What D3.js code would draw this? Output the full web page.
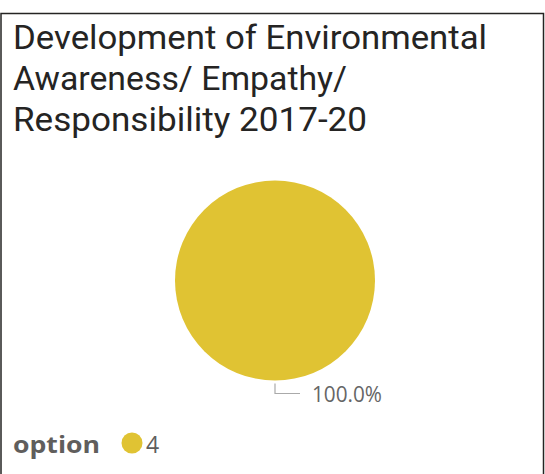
<!DOCTYPE html>
<html><head><meta charset="utf-8">
<script src="https://cdn.jsdelivr.net/npm/d3@7"></script>
<style>html,body{margin:0;padding:0;background:#fff;}svg{display:block;}</style>
</head><body>
<svg id="c" width="545" height="474"></svg>
<script>
const titleLines = ["Development of Environmental", "Awareness/ Empathy/", "Responsibility 2017-20"];
const categories = ["4"];
const values = [1];
const colors = ["#E0C333"];
const legendTitle = "option";

const svg = d3.select("#c");
svg.append("rect").attr("x", 1).attr("y", 13.5).attr("width", 542.5).attr("height", 470)
  .attr("fill", "#fff").attr("stroke", "#252423").attr("stroke-width", 1.5);

const tg = svg.append("g");
const baselines = [49, 90, 131];
const widths = [474, 334, 354];
titleLines.forEach((t, i) => {
  tg.append("text").attr("x", 13).attr("y", baselines[i]).text(t)
    .attr("font-family", "Roboto, 'DejaVu Sans'").attr("font-size", 34).attr("fill", "#252423")
    .attr("textLength", widths[i]).attr("lengthAdjust", "spacingAndGlyphs");
});

const cx = 275, cy = 280.5, r = 100;
const pie = d3.pie().sort(null)(values);
const arc = d3.arc().innerRadius(0).outerRadius(r);
const g = svg.append("g").attr("transform", `translate(${cx},${cy})`);
g.selectAll("path").data(pie).join("path").attr("d", arc).attr("fill", (d, i) => colors[i]);

const total = d3.sum(values);
pie.forEach((d, i) => {
  const p0 = [cx, cy + r + 3];
  const p1 = [cx, cy + r + 13];
  const p2 = [cx + 25, cy + r + 13];
  svg.append("polyline").attr("points", [p0, p1, p2].map(p => p.join(",")).join(" "))
    .attr("fill", "none").attr("stroke", "#aaa").attr("stroke-width", 1.2);
  svg.append("text").attr("x", 312).attr("y", 402)
    .text(d3.format(".1%")(values[i] / total))
    .attr("font-family", "'Open Sans', 'Noto Sans'").attr("font-size", 21).attr("fill", "#666")
    .attr("textLength", 70).attr("lengthAdjust", "spacingAndGlyphs");
});

const lg = svg.append("g");
lg.append("text").attr("x", 13).attr("y", 453).text(legendTitle)
  .attr("font-family", "'Open Sans', 'Noto Sans'").attr("font-weight", "bold")
  .attr("font-size", 24).attr("fill", "#605E5C")
  .attr("textLength", 87).attr("lengthAdjust", "spacingAndGlyphs");
categories.forEach((c, i) => {
  lg.append("circle").attr("cx", 132).attr("cy", 443).attr("r", 10.5).attr("fill", colors[i]);
  lg.append("text").attr("x", 146).attr("y", 453).text(c)
    .attr("font-family", "'Open Sans', 'Noto Sans'").attr("font-size", 23).attr("fill", "#605E5C");
});
</script>
</body></html>
